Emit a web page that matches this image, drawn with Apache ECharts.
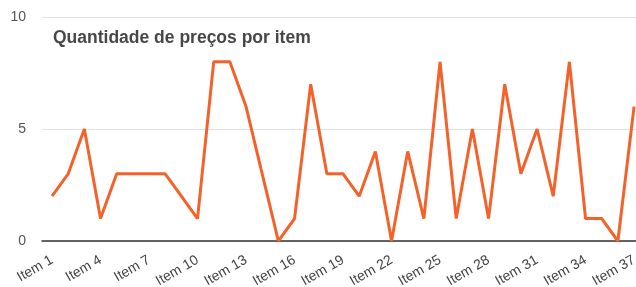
<!DOCTYPE html>
<html><head><meta charset="utf-8">
<script src="https://cdn.jsdelivr.net/npm/echarts@6/dist/echarts.min.js"></script>
<style>html,body{margin:0;padding:0;background:#fff}#c{width:636px;height:287px}</style>
</head><body><div id="c"></div>
<script>
const titleText = 'Quantidade de preços por item';
const categories = [];
for (let i = 1; i <= 37; i++) categories.push('Item ' + i);
const values = [2,3,5,1,3,3,3,3,2,1,8,8,6,3,0,1,7,3,3,2,4,0,4,1,8,1,5,1,7,3,5,2,8,1,1,0,6];
const labelPositions = [1,4,7,10,13,16,19,22,25,28,31,34,37];
const yTicks = [0, 5, 10];

const seriesData = values.map((v, i) => [i + 1, v]);

const chart = echarts.init(document.getElementById('c'), null, {renderer:'canvas'});
chart.setOption({
  animation: false,
  title: {
    text: titleText, left: 48, top: 24,
    textStyle: {fontFamily: 'Liberation Sans, Arial', fontWeight: 'bold', fontSize: 17.5, color: '#474747'}
  },
  grid: {left: 42, right: 0, top: 17, height: 224, outerBoundsMode: 'none', containLabel: false},
  xAxis: {
    type: 'value', min: 0.38, max: 37.12,
    splitLine: {show: false},
    axisLine: {lineStyle: {color: '#333', width: 1.5}},
    axisTick: {show: false},
    axisLabel: {
      customValues: labelPositions,
      formatter: v => categories[Math.round(v) - 1],
      rotate: 30, fontSize: 14, color: '#444', margin: 18, fontFamily: 'Liberation Sans, Arial',
      showMinLabel: true, showMaxLabel: true
    }
  },
  yAxis: {
    type: 'value', min: yTicks[0], max: yTicks[yTicks.length-1], interval: 5,
    axisLine: {show: false}, axisTick: {show: false},
    axisLabel: {fontSize: 14, color: '#555', margin: 16, fontFamily: 'Liberation Sans, Arial'},
    splitLine: {lineStyle: {color: '#e2e2e2', width: 1}}
  },
  series: [{
    type: 'line', data: seriesData, showSymbol: false, symbol: 'none',
    lineStyle: {color: '#f4622a', width: 3}
  }]
});
</script></body></html>
